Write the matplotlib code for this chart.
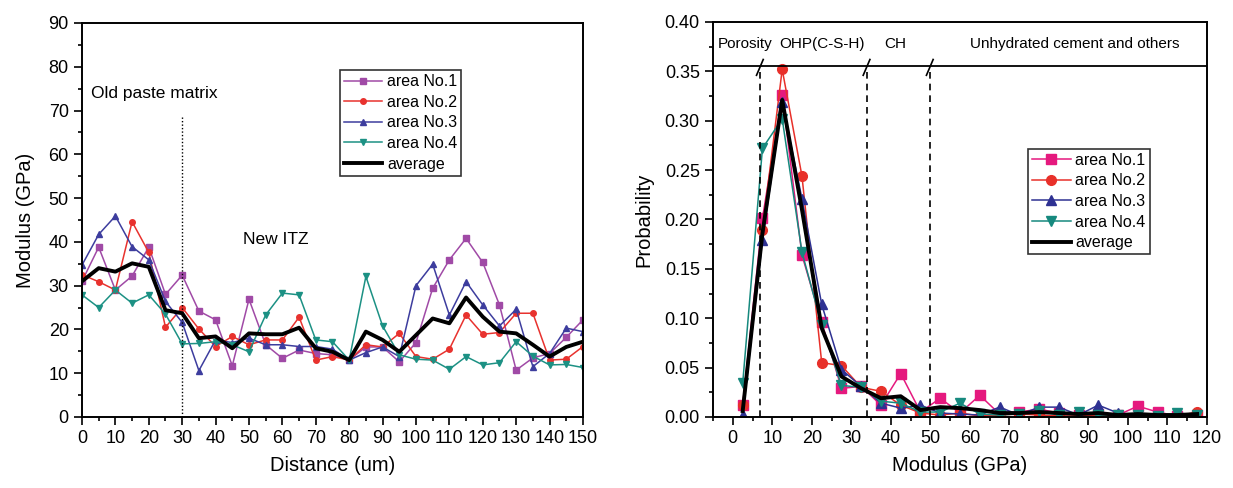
import matplotlib
matplotlib.use("Agg")
import matplotlib.pyplot as plt
from matplotlib.ticker import MultipleLocator

plt.rcParams["font.family"] = ["Liberation Sans", "DejaVu Sans"]

# ---- left panel: modulus profile across the interface ----
distance = list(range(0, 155, 5))

area1_mod = [31, 38.8, 29, 32.2, 38.8, 28, 32.4, 24.2, 22.2, 11.7, 26.9, 16.5, 13.4, 15.3, 14.5, 14.2,
             13, 16, 16, 12.6, 17, 29.4, 35.9, 40.8, 35.3, 25.6, 10.7, 13.5, 14.5, 18.2, 22.2]
area2_mod = [32.5, 30.9, 29, 44.6, 37.6, 20.5, 25, 20.1, 16.1, 18.4, 16.5, 17.6, 17.6, 22.8, 13, 13.8,
             13, 16.5, 16, 19.1, 13.8, 13.2, 15.5, 23.3, 18.9, 19.3, 23.7, 23.7, 13, 13.2, 16.1]
area3_mod = [34.7, 41.7, 45.9, 38.9, 35.9, 26.4, 21.6, 10.6, 17.6, 17, 18, 16.5, 16.5, 16.1, 16.1, 15.5,
             13, 14.7, 16, 13.8, 30, 34.9, 23.3, 30.9, 25.6, 20.8, 24.6, 11.5, 14.5, 20.3, 19.5]
area4_mod = [27.9, 25, 29, 26, 27.9, 23.5, 16.7, 16.8, 17.2, 16.5, 14.9, 23.3, 28.3, 27.9, 17.6, 17.2,
             13, 32.1, 20.8, 14.2, 13.2, 13, 10.9, 13.8, 11.9, 12.4, 17.2, 13.9, 11.9, 12, 11.3]
average_mod = [31, 34, 33.2, 35.1, 34.3, 24.4, 23.7, 18, 18.4, 15.7, 19.1, 18.9, 18.9, 20.4, 15.7, 14.9,
               13, 19.5, 17.6, 14.9, 18.7, 22.5, 21.4, 27.3, 22.9, 19.5, 19.1, 16.5, 13.8, 16, 17.2]

# ---- right panel: modulus probability distribution ----
modulus_bins = [2.5 + 5 * i for i in range(24)]

area1_prob = [0.012, 0.201, 0.326, 0.164, 0.096, 0.029, 0.031, 0.012, 0.044, 0.005, 0.019, 0.004,
              0.022, 0.003, 0.005, 0.008, 0.004, 0.002, 0.003, 0.002, 0.011, 0.005, 0.001, 0.002]
area2_prob = [0.012, 0.189, 0.352, 0.244, 0.055, 0.052, 0.030, 0.026, 0.012, 0.004, 0.002, 0.004,
              0.001, 0.002, 0.003, 0.002, 0.001, 0.001, 0.002, 0.001, 0.001, 0.001, 0.001, 0.005]
area3_prob = [0.002, 0.179, 0.319, 0.221, 0.114, 0.048, 0.031, 0.014, 0.009, 0.012, 0.004, 0.003,
              0.002, 0.010, 0.002, 0.010, 0.010, 0.002, 0.012, 0.004, 0.002, 0.001, 0.002, 0.001]
area4_prob = [0.034, 0.272, 0.302, 0.167, 0.093, 0.032, 0.030, 0.016, 0.014, 0.005, 0.005, 0.014,
              0.003, 0.002, 0.003, 0.006, 0.002, 0.005, 0.002, 0.002, 0.002, 0.001, 0.004, 0.002]
average_prob = [0.006, 0.186, 0.321, 0.210, 0.090, 0.041, 0.029, 0.019, 0.021, 0.007, 0.010, 0.009,
                0.007, 0.004, 0.004, 0.005, 0.004, 0.003, 0.004, 0.002, 0.003, 0.002, 0.002, 0.003]

phase_bounds = [7, 34, 50]
phase_names = ["Porosity", "OHP(C-S-H)", "CH", "Unhydrated cement and others"]
phase_label_x = [-3.8, 22.5, 41, 86.5]
labels = ["area No.1", "area No.2", "area No.3", "area No.4", "average"]

fig = plt.figure(figsize=(12.33, 4.88), dpi=100)
ax1 = fig.add_axes([0.0665, 0.1455, 0.4063, 0.8074])
ax2 = fig.add_axes([0.5783, 0.1455, 0.4006, 0.8095])

TICK_FS = 13
LABEL_FS = 14.5

# left panel
left_colors = ["#A04AA6", "#E8322E", "#3D3D9E", "#1C9184"]
left_markers = ["s", "o", "^", "v"]
for ys, c, m, lab in zip([area1_mod, area2_mod, area3_mod, area4_mod], left_colors, left_markers, labels):
    ax1.plot(distance, ys, color=c, marker=m, markersize=4, lw=1.1, label=lab)
ax1.plot(distance, average_mod, color="black", lw=2.8, label="average")

ax1.plot([30, 30], [0, 68.5], color="black", lw=1.0, ls=(0, (1, 1.5)))
ax1.text(2.7, 74, "Old paste matrix", fontsize=12.5, ha="left", va="center")
ax1.text(48.2, 40.5, "New ITZ", fontsize=12.5, ha="left", va="center")

ax1.set_xlim(0, 150)
ax1.set_ylim(0, 90)
ax1.xaxis.set_major_locator(MultipleLocator(10))
ax1.xaxis.set_minor_locator(MultipleLocator(5))
ax1.yaxis.set_major_locator(MultipleLocator(10))
ax1.yaxis.set_minor_locator(MultipleLocator(5))
ax1.set_xlabel("Distance (um)", fontsize=LABEL_FS, labelpad=6)
ax1.set_ylabel("Modulus (GPa)", fontsize=LABEL_FS, labelpad=10)
leg1 = ax1.legend(loc="upper left", bbox_to_anchor=(0.515, 0.88), fontsize=11.5, frameon=True,
                  fancybox=False, edgecolor="black", handlelength=2.4, handletextpad=0.3,
                  borderpad=0.25, labelspacing=0.35, borderaxespad=0)
leg1.get_frame().set_linewidth(1.2)

# right panel
right_colors = ["#E5197E", "#E8302A", "#2E3192", "#16897E"]
right_markers = ["s", "o", "^", "v"]
for ys, c, m, lab in zip([area1_prob, area2_prob, area3_prob, area4_prob], right_colors, right_markers, labels):
    ax2.plot(modulus_bins, ys, color=c, marker=m, markersize=7, lw=1.1, label=lab)
ax2.plot(modulus_bins, average_prob, color="black", lw=2.8, label="average")

band_y = 0.355
ax2.axhline(band_y, color="black", lw=1.3)
for xb in phase_bounds:
    ax2.plot([xb, xb], [0, band_y], color="black", lw=1.2, ls=(0, (4, 3)))
    ax2.plot([xb - 1.0, xb + 0.7], [band_y - 0.009, band_y + 0.007], color="black", lw=1.2)
for name, xt in zip(phase_names, phase_label_x):
    ax2.text(xt, 0.378, name, fontsize=11, ha="left" if xt < 0 else "center", va="center")

ax2.set_xlim(-5, 120)
ax2.set_ylim(0, 0.40)
ax2.xaxis.set_major_locator(MultipleLocator(10))
ax2.xaxis.set_minor_locator(MultipleLocator(5))
ax2.yaxis.set_major_locator(MultipleLocator(0.05))
ax2.yaxis.set_minor_locator(MultipleLocator(0.025))
ax2.yaxis.set_major_formatter(plt.FuncFormatter(lambda v, p: f"{v:.2f}"))
ax2.set_xlabel("Modulus (GPa)", fontsize=LABEL_FS, labelpad=6)
ax2.set_ylabel("Probability", fontsize=LABEL_FS, labelpad=8)
leg2 = ax2.legend(loc="upper left", bbox_to_anchor=(0.638, 0.679), fontsize=11.5, frameon=True,
                  fancybox=False, edgecolor="black", handlelength=2.4, handletextpad=0.3,
                  borderpad=0.25, labelspacing=0.35, borderaxespad=0)
leg2.get_frame().set_linewidth(1.2)

for ax in (ax1, ax2):
    for s in ax.spines.values():
        s.set_linewidth(1.4)
    ax.tick_params(which="both", direction="out", top=False, right=False, labelsize=TICK_FS, width=1.2)
    ax.tick_params(which="major", length=6)
    ax.tick_params(which="minor", length=3)

fig.savefig("out.png", dpi=100)
